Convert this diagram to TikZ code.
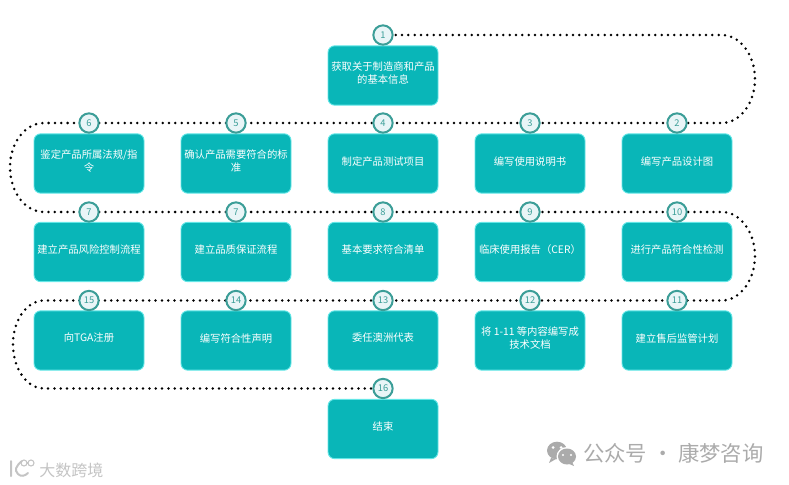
\documentclass[tikz,border=0pt]{standalone}
\usepackage{fontspec}
\setmainfont{Noto Sans CJK SC}
\usetikzlibrary{backgrounds}
\definecolor{boxteal}{HTML}{09B6B8}
\definecolor{boxglow}{HTML}{63E6E6}
\definecolor{ringteal}{HTML}{3C9E98}
\definecolor{ringfill}{HTML}{E9F5F7}
\definecolor{marktext}{HTML}{ABABAB}
\tikzset{
  x=0.75pt,y=-0.75pt,
  stepbox/.style={draw=boxglow,line width=0.7pt,fill=boxteal,rounded corners=5pt,minimum width=82.5pt,minimum height=44.5pt,inner sep=0pt,text=white,font=\fontsize{7.75pt}{10pt}\selectfont,align=center,execute at end node={\rule[-4.3pt]{0pt}{4.3pt}}},
  numring/.style={circle,draw=ringteal,line width=1.5pt,fill=ringfill,minimum size=14.5pt,inner sep=0pt,text=ringteal,font=\fontsize{7pt}{8pt}\selectfont},
  dotline/.style={line width=2.1pt,line cap=round,dash pattern=on 0pt off 4.75pt,black},
  markfont/.style={text=marktext,inner sep=0pt}
}
\begin{document}
\begin{tikzpicture}
\useasboundingbox (0,0) rectangle (789,485);
% boxes
\node[stepbox] (b1) at (383,75.5) {获取关于制造商和产品\\的基本信息};
\node[stepbox] (b2) at (677,163.5) {编写产品设计图};
\node[stepbox] (b3) at (530,163.5) {编写使用说明书};
\node[stepbox] (b4) at (383,163.5) {制定产品测试项目};
\node[stepbox] (b5) at (236,163.5) {确认产品需要符合的标\\准};
\node[stepbox] (b6) at (89,163.5) {鉴定产品所属法规/指\\令};
\node[stepbox] (b7) at (89,252) {建立产品风险控制流程};
\node[stepbox] (b7b) at (236,252) {建立品质保证流程};
\node[stepbox] (b8) at (383,252) {基本要求符合清单};
\node[stepbox] (b9) at (530,252) {临床使用报告（CER）};
\node[stepbox] (b10) at (677,252) {进行产品符合性检测};
\node[stepbox] (b11) at (677,340.5) {建立售后监管计划};
\node[stepbox] (b12) at (530,340.5) {将 1-11 等内容编写成\\技术文档};
\node[stepbox] (b13) at (383,340.5) {委任澳洲代表};
\node[stepbox] (b14) at (236,340.5) {编写符合性声明};
\node[stepbox] (b15) at (89,340.5) {向TGA注册};
\node[stepbox] (b16) at (383,429) {结束};
% number rings
\node[numring] (c1) at (383,35) {1};
\node[numring] (c2) at (677,123) {2};
\node[numring] (c3) at (530,123) {3};
\node[numring] (c4) at (383,123) {4};
\node[numring] (c5) at (236,123) {5};
\node[numring] (c6) at (89,123) {6};
\node[numring] (c7) at (89,212) {7};
\node[numring] (c7b) at (236,212) {7};
\node[numring] (c8) at (383,212) {8};
\node[numring] (c9) at (530,212) {9};
\node[numring] (c10) at (677,212) {10};
\node[numring] (c11) at (677,300.5) {11};
\node[numring] (c12) at (530,300.5) {12};
\node[numring] (c13) at (383,300.5) {13};
\node[numring] (c14) at (236,300.5) {14};
\node[numring] (c15) at (89,300.5) {15};
\node[numring] (c16) at (383,388.5) {16};
% dotted route
\begin{scope}[on background layer]
\draw[dotline] (c1.center) -- (722,35)
  .. controls (740,35) and (755,55) .. (755,79)
  .. controls (755,103) and (740,123) .. (722,123)
  -- (c2.center) -- (c3.center) -- (c4.center) -- (c5.center) -- (c6.center) -- (44,123)
  .. controls (25,123) and (10,143) .. (10,167)
  .. controls (10,192) and (25,212) .. (44,212)
  -- (c7.center) -- (c7b.center) -- (c8.center) -- (c9.center) -- (c10.center) -- (722,212)
  .. controls (740,212) and (755,232) .. (755,256)
  .. controls (755,280) and (740,300.5) .. (722,300.5)
  -- (c11.center) -- (c12.center) -- (c13.center) -- (c14.center) -- (c15.center) -- (44,300.5)
  .. controls (27,300.5) and (13,320) .. (13,344)
  .. controls (13,369) and (27,388.5) .. (44,388.5)
  -- (c16.center);
\end{scope}
% watermark right
\fill[marktext] (557,450.5) ellipse [x radius=10,y radius=8.8];
\fill[marktext] (551,458) -- (549,463) -- (556,459) -- cycle;
\fill[white] (567,456.5) ellipse [x radius=10.5,y radius=9.5];
\fill[marktext] (567,456.5) ellipse [x radius=9,y radius=8];
\fill[marktext] (572,462) -- (574,466) -- (567,463) -- cycle;
\fill[white] (553,447.5) circle (1.5) (561,447.5) circle (1.5) (563,455) circle (1.2) (571,455) circle (1.2);
\node[markfont,anchor=west,font=\fontsize{16pt}{18pt}\selectfont] (w1) at (583,453) {公众号 · 康梦咨询};
% watermark left
\draw[marktext!70,line width=1.5pt,line cap=round] (11,461) -- (11,476) (22,461) .. controls (16,466) and (14,470) .. (18,474) .. controls (21,477) and (25,476) .. (28,473);
\draw[marktext!70,line width=0.8pt] (24,463) circle (3) (31,463) circle (3);
\node[markfont,anchor=west,text=marktext!70,font=\fontsize{12pt}{14pt}\selectfont] (w2) at (39,470) {大数跨境};
\end{tikzpicture}
\end{document}
